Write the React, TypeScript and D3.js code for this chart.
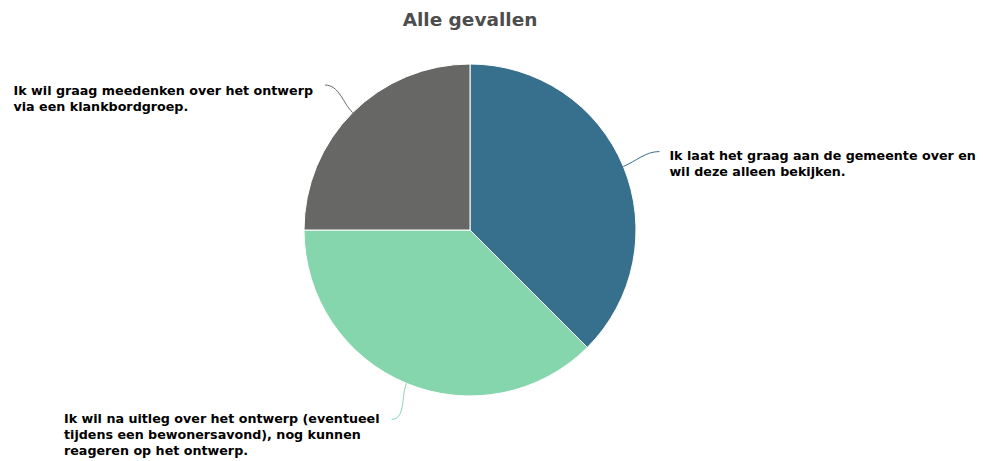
import React, { useEffect, useRef } from 'react'
import * as d3 from 'd3'

// answers, in the order they are drawn (clockwise from 12 o'clock)
const answers = [
  ['Ik laat het graag aan de gemeente over en', 'wil deze alleen bekijken.'],
  ['Ik wil na uitleg over het ontwerp (eventueel', 'tijdens een bewonersavond), nog kunnen', 'reageren op het ontwerp.'],
  ['Ik wil graag meedenken over het ontwerp', 'via een klankbordgroep.'],
]
const counts = [3, 3, 2]
const palette = ['#36708d', '#86d6ad', '#676765']
const chartTitle = 'Alle gevallen'

const width = 983
const height = 461

export default function App() {
  const ref = useRef<SVGSVGElement>(null)

  useEffect(() => {
    const svg = d3.select(ref.current)
    svg.selectAll('*').remove()

    const cx = 470, cy = 230, r = 166
    const labelR = r + 39
    const font = '"DejaVu Sans", Verdana, sans-serif'

    svg.append('text')
      .attr('x', cx)
      .attr('y', 26)
      .attr('text-anchor', 'middle')
      .attr('font-family', font)
      .attr('font-size', 18.5)
      .attr('font-weight', 'bold')
      .attr('fill', '#4d4d4d')
      .text(chartTitle)

    const data = counts.map((v, i) => ({ value: v, lines: answers[i], color: palette[i] }))
    const pie = d3.pie<any>().sort(null).value(d => d.value)
    const arcs = pie(data)
    const arc = d3.arc<any>().innerRadius(0).outerRadius(r)

    const g = svg.append('g').attr('transform', `translate(${cx},${cy})`)
    g.selectAll('path.slice')
      .data(arcs)
      .join('path')
      .attr('class', 'slice')
      .attr('d', arc)
      .attr('fill', d => d.data.color)
      .attr('stroke', '#fff')
      .attr('stroke-width', 1)
      .attr('stroke-linejoin', 'round')

    arcs.forEach(a => {
      const mid = (a.startAngle + a.endAngle) / 2
      const sx = Math.sin(mid), sy = -Math.cos(mid)
      const right = sx > 0
      const edge = [sx * r, sy * r]
      const end = [sx * labelR, sy * labelR]
      const c1 = [sx * (r + 14), sy * (r + 14)]
      const c2 = [end[0] + (right ? -14 : 14), end[1]]
      g.append('path')
        .attr('d', `M${edge[0]},${edge[1]}C${c1[0]},${c1[1]} ${c2[0]},${c2[1]} ${end[0]},${end[1]}`)
        .attr('fill', 'none')
        .attr('stroke', a.data.color)
        .attr('stroke-width', 1)

      const t = g.append('text')
        .attr('font-family', font)
        .attr('font-size', 12.7)
        .attr('font-weight', 'bold')
        .attr('fill', '#000')
      a.data.lines.forEach((l: string, i: number) => {
        t.append('tspan').attr('x', 0).attr('dy', i === 0 ? 0 : 16).text(l)
      })
      const w = (t.node() as SVGTextElement).getBBox().width
      const tx = right ? end[0] + 10 : end[0] - 12 - w
      const ty = end[1] + (right ? 8 : sy < 0 ? 10 : 4)
      t.attr('transform', `translate(${tx},${ty})`)
    })
  }, [])

  return (
    <svg
      ref={ref}
      width={width}
      height={height}
      style={{ position: 'absolute', left: 0, top: 0, background: '#fff' }}
    />
  )
}
